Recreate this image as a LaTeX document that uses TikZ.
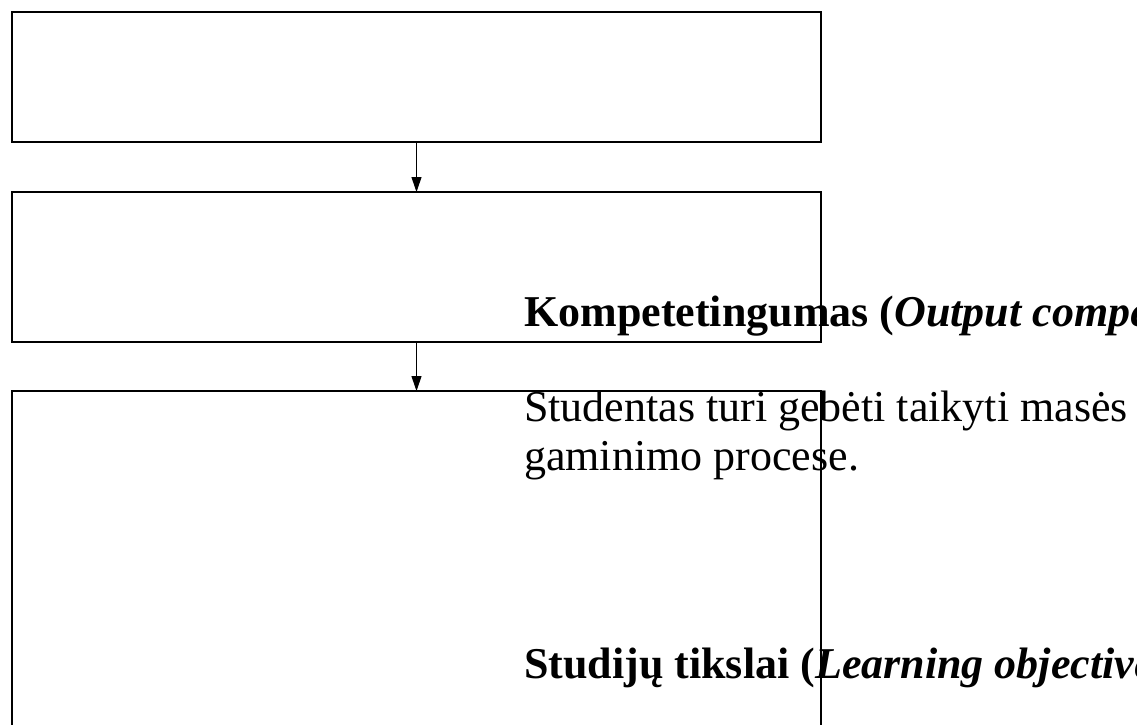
\documentclass[tikz,border=0pt]{standalone}
\usepackage{fontspec}
\setmainfont{Liberation Serif}
\usetikzlibrary{arrows.meta}

\begin{document}
\begin{tikzpicture}[x=1pt,y=-1pt,
    blok/.style={draw, line width=2pt, minimum width=809pt, inner sep=0pt, outer sep=0pt},
    tekstas/.style={anchor=base west, inner sep=0pt, font=\fontsize{44}{49}\selectfont},
    rodykle/.style={-{Triangle[length=15pt,width=10pt]}, line width=1pt}]
            \useasboundingbox (0,0) rectangle (1137,724);
            \clip (0,0) rectangle (1137,724);
            \draw (416.5,77) node[blok, minimum height=130pt] (box1) {};
            \draw (416.5,267) node[blok, minimum height=150pt] (box2) {};
            \draw (416.5,600) node[blok, minimum height=418pt] (box3) {};
            \path[rodykle] (box1) edge (box2)
                           (box2) edge (box3);
            % tekstas uz deziu
            \draw (524,326) node[tekstas] (kompet) {\bfseries Kompetetingumas (\textit{Output competence})};
            \draw (524,421) node[tekstas] (stud1) {Studentas turi gebėti taikyti masės};
            \draw (524,470) node[tekstas] (stud2) {gaminimo procese.};
            \draw (524,678) node[tekstas] (tikslai) {\bfseries Studijų tikslai (\textit{Learning objectives})};
        \end{tikzpicture}
\end{document}
